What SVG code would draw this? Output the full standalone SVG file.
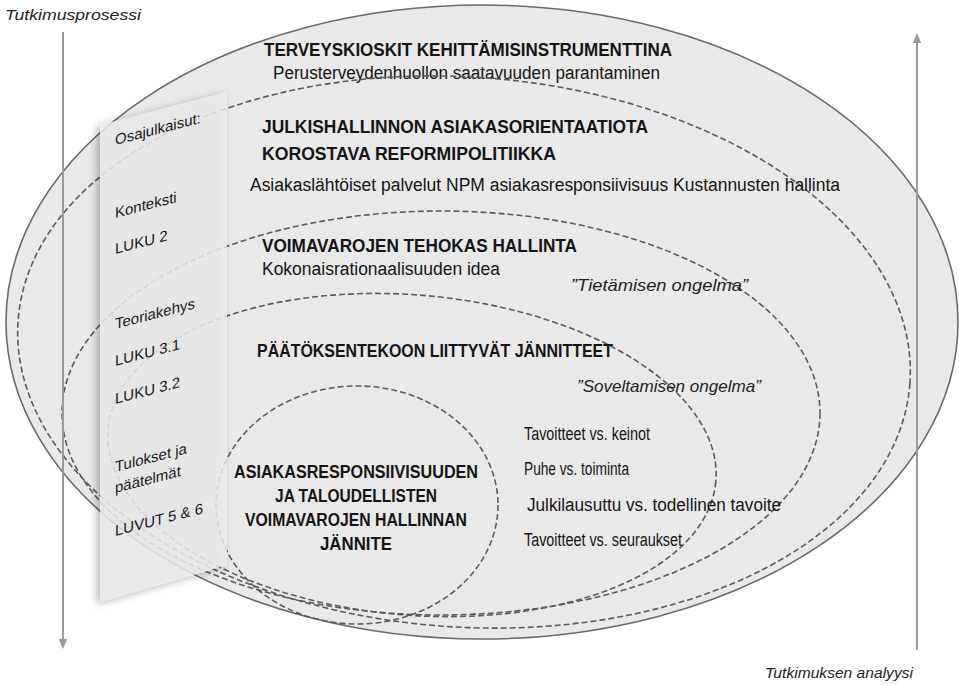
<svg xmlns="http://www.w3.org/2000/svg" width="959" height="685" viewBox="0 0 959 685">
  <style>
    text { font-family: "Liberation Sans", Arial, sans-serif; fill: #151515; }
    .h { font-weight: bold; font-size: 18.5px; }
    .r { font-size: 18px; }
    .it { font-style: italic; font-size: 17px; fill: #222; }
    .side { font-style: italic; font-size: 15px; fill: #222; }
    .pt { font-size: 15px; fill: #1a1a1a; }
    .dash { fill: none; stroke: #5c5c5c; stroke-width: 1.6; stroke-dasharray: 6 3; }
    .axis { stroke: #9a9a9a; stroke-width: 2; fill: none; }
  </style>
  <defs>
    <marker id="arrow" markerWidth="10" markerHeight="10" refX="6" refY="5" orient="auto" markerUnits="userSpaceOnUse" viewBox="0 0 12 10">
      <path d="M0,0 L12,5 L0,10 Z" fill="#9a9a9a"/>
    </marker>
    <filter id="shadow" x="-20%" y="-10%" width="140%" height="120%">
      <feGaussianBlur in="SourceAlpha" stdDeviation="4"/>
      <feOffset dx="-3" dy="2" result="b"/>
      <feComponentTransfer><feFuncA type="linear" slope="0.35"/></feComponentTransfer>
      <feMerge><feMergeNode/><feMergeNode in="SourceGraphic"/></feMerge>
    </filter>
  </defs>

  <!-- outer field -->
  <g id="outer">
    <ellipse cx="482" cy="322" rx="476" ry="317" fill="#e9e9e9" stroke="#6a6a6a" stroke-width="1.6"/>
    <text class="h" x="264" y="56" textLength="408" lengthAdjust="spacingAndGlyphs">TERVEYSKIOSKIT KEHITTÄMISINSTRUMENTTINA</text>
    <text class="r" x="273" y="79" textLength="387" lengthAdjust="spacingAndGlyphs">Perusterveydenhuollon saatavuuden parantaminen</text>
  </g>

  <!-- nested dashed fields -->
  <g id="connectors">
    <ellipse class="dash" cx="464" cy="352" rx="447" ry="275" transform="rotate(4 464 352)"/>
    <ellipse class="dash" cx="441" cy="413" rx="379" ry="202"/>
    <ellipse class="dash" cx="412" cy="455" rx="305" ry="160" transform="rotate(5 412 455)"/>
    <ellipse class="dash" cx="357" cy="505" rx="141" ry="119"/>
  </g>

  <g id="reform">
    <text class="h" x="262" y="133" textLength="386" lengthAdjust="spacingAndGlyphs">JULKISHALLINNON  ASIAKASORIENTAATIOTA</text>
    <text class="h" x="262" y="160" textLength="294" lengthAdjust="spacingAndGlyphs">KOROSTAVA REFORMIPOLITIIKKA</text>
    <text class="r" x="250" y="191" textLength="590" lengthAdjust="spacingAndGlyphs">Asiakaslähtöiset palvelut  NPM asiakasresponsiivisuus  Kustannusten hallinta</text>
  </g>

  <g id="resources">
    <text class="h" x="262" y="252" textLength="315" lengthAdjust="spacingAndGlyphs">VOIMAVAROJEN TEHOKAS HALLINTA</text>
    <text class="r" x="262" y="275" textLength="238" lengthAdjust="spacingAndGlyphs">Kokonaisrationaalisuuden idea</text>
    <text class="it" x="571" y="291" textLength="177" lengthAdjust="spacingAndGlyphs">”Tietämisen ongelma”</text>
  </g>

  <g id="decisions">
    <text class="h" x="257" y="357" textLength="356" lengthAdjust="spacingAndGlyphs">PÄÄTÖKSENTEKOON LIITTYVÄT JÄNNITTEET</text>
    <text class="it" x="577" y="392" textLength="184" lengthAdjust="spacingAndGlyphs">”Soveltamisen ongelma”</text>
    <text class="r" x="524" y="440" textLength="126" lengthAdjust="spacingAndGlyphs">Tavoitteet vs. keinot</text>
    <text class="r" x="524" y="475" textLength="105" lengthAdjust="spacingAndGlyphs">Puhe vs. toiminta</text>
    <text class="r" x="527" y="511" textLength="254" lengthAdjust="spacingAndGlyphs">Julkilausuttu vs. todellinen tavoite</text>
    <text class="r" x="524" y="546" textLength="158" lengthAdjust="spacingAndGlyphs">Tavoitteet vs. seuraukset</text>
  </g>

  <g id="tension">
    <text class="h" x="356" y="478" text-anchor="middle" textLength="244" lengthAdjust="spacingAndGlyphs">ASIAKASRESPONSIIVISUUDEN</text>
    <text class="h" x="356" y="502" text-anchor="middle" textLength="162" lengthAdjust="spacingAndGlyphs">JA TALOUDELLISTEN</text>
    <text class="h" x="356" y="526" text-anchor="middle" textLength="222" lengthAdjust="spacingAndGlyphs">VOIMAVAROJEN HALLINNAN</text>
    <text class="h" x="356" y="550" text-anchor="middle" textLength="72" lengthAdjust="spacingAndGlyphs">JÄNNITE</text>
  </g>

  <!-- publications panel -->
  <g id="panel">
    <polygon points="100,125 227,92 227,565 100,602" fill="#ececec" fill-opacity="0.82" filter="url(#shadow)"/>
    <text class="pt" transform="translate(115,145) skewY(-14.5)">Osajulkaisut:</text>
    <text class="pt" transform="translate(115,218) skewY(-14.5)">Konteksti</text>
    <text class="pt" transform="translate(115,254) skewY(-14.5)">LUKU 2</text>
    <text class="pt" transform="translate(115,329) skewY(-14.5)">Teoriakehys</text>
    <text class="pt" transform="translate(115,366) skewY(-14.5)">LUKU 3.1</text>
    <text class="pt" transform="translate(115,404) skewY(-14.5)">LUKU 3.2</text>
    <text class="pt" transform="translate(115,472) skewY(-14.5)">Tulokset ja</text>
    <text class="pt" transform="translate(115,493) skewY(-14.5)">päätelmät</text>
    <text class="pt" transform="translate(115,536) skewY(-14.5)">LUVUT 5 &amp; 6</text>
  </g>

  <!-- process axes -->
  <g id="process">
    <line class="axis" x1="63" y1="32" x2="63" y2="644" marker-end="url(#arrow)"/>
    <text class="side" x="5" y="20" textLength="136" lengthAdjust="spacingAndGlyphs">Tutkimusprosessi</text>
  </g>
  <g id="analysis">
    <line class="axis" x1="917" y1="650" x2="917" y2="38" marker-end="url(#arrow)"/>
    <text class="side" x="913" y="678" text-anchor="end" textLength="148" lengthAdjust="spacingAndGlyphs">Tutkimuksen analyysi</text>
  </g>
</svg>
